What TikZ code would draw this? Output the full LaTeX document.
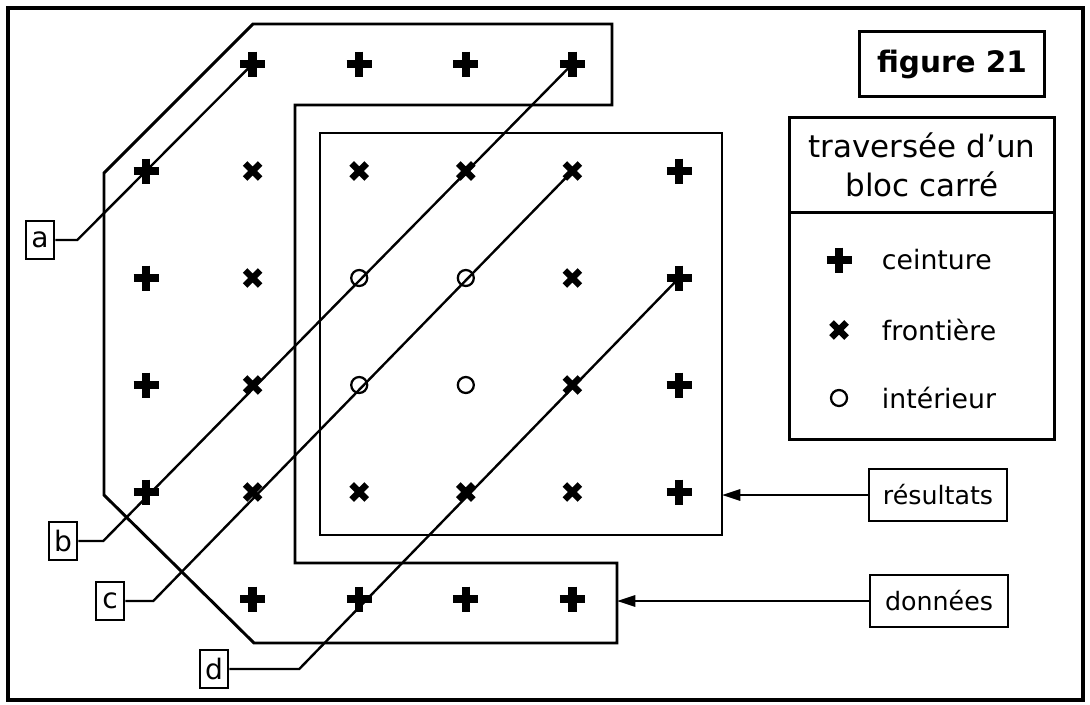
\documentclass[tikz,border=0pt]{standalone}
\usepackage{fontspec}
\setmainfont{DejaVu Sans}
\usetikzlibrary{
  arrows.meta,  % 箭头
  positioning   % 节点相对定位
}
\tikzset{
  trait/.style={line width=2.1pt},
  ligne/.style={line width=1.7pt},
  etiquette/.style={
    draw,
    line width=1.7pt,
    inner sep=1pt,
    minimum width=20pt,
    minimum height=27pt,
    font=\fontsize{20}{22}\selectfont
  },
  boite/.style={
    draw,
    line width=1.7pt,
    minimum width=98pt,
    minimum height=37pt,
    font=\fontsize{18}{20}\selectfont
  },
  fleche/.style={
    -{Triangle[length=13pt,width=8pt]},
    line width=1.6pt
  },
  item/.style={anchor=west, font=\fontsize{19}{22}\selectfont},
  pics/ceinture/.style={code={
    \draw[line width=6pt] (-12.5,0) -- (12.5,0) (0,-12.5) -- (0,12.5);}},
  pics/frontiere/.style={code={
    \draw[line width=4.6pt] (-7.5,-7.5) -- (7.5,7.5) (-7.5,7.5) -- (7.5,-7.5);}},
  pics/interieur/.style={code={
    \draw[line width=1.6pt] (0,0) circle (8);}}
}
\begin{document}
\begin{tikzpicture}[>=Stealth, x=0.025cm, y=-0.025cm]

  \useasboundingbox (0,0) rectangle (1090,704);

  % 1. 外框
  \draw[line width=2.2pt] (8,8) rectangle (1083,700);

  % 2. 网格点 (列 c, 行 r)
  \foreach \c in {0,...,5}
    \foreach \r in {0,...,5}
      \coordinate (g-\c-\r) at ({146+106.6*\c},{64+107*\r});

  % 3. 数据块的轮廓与结果方块
  \draw[trait] (253,24) -- (612,24) -- (612,105) -- (295,105) -- (295,563)
    -- (617,563) -- (617,643) -- (254,643) -- (104,495) -- (104,173) -- cycle;
  \draw[trait] (320,133) rectangle (722,535);
  \coordinate (carre-e) at (722,494);
  \coordinate (bloc-e) at (617,601);

  % 4. 标签 a--d 与扫描线
  \node[etiquette] (la) at (40,240) {a};
  \node[etiquette] (lb) at (63,541) {b};
  \node[etiquette] (lc) at (110,601) {c};
  \node[etiquette] (ld) at (214,669) {d};
  \draw[ligne] (la.east) -- ++(22,0) -- (g-1-0);
  \draw[ligne] (lb.east) -- ++(25,0) -- (g-4-0);
  \draw[ligne] (lc.east) -- ++(28,0) -- (g-4-1);
  \draw[ligne] (ld.east) -- ++(70,0) -- (g-5-2);

  % 5. 点的符号
  \foreach \c/\r in {1/0,2/0,3/0,4/0,0/1,5/1,0/2,5/2,0/3,5/3,0/4,5/4,1/5,2/5,3/5,4/5}
    \pic at (g-\c-\r) {ceinture};
  \foreach \c/\r in {1/1,2/1,3/1,4/1,1/2,4/2,1/3,4/3,1/4,2/4,3/4,4/4}
    \pic at (g-\c-\r) {frontiere};
  \foreach \c/\r in {2/2,3/2,2/3,3/3}
    \pic at (g-\c-\r) {interieur};

  % 6. 标题与图例
  \node[draw, trait, minimum width=131pt, minimum height=46pt,
    font=\bfseries\fontsize{21}{24}\selectfont] (fig) at (952,64) {figure 21};
  \node[draw, trait, minimum width=189pt, minimum height=68pt, align=center,
    font=\fontsize{22}{28}\selectfont] (titre) at (922,165) {traversée d'un\\bloc carré};
  \node[draw, trait, minimum width=189pt, minimum height=161pt,
    below=-2.1pt of titre] (legende) {};
  \pic at (839,260) {ceinture};
  \node[item] (t-ceint) at (877,260) {ceinture};
  \pic at (839,330) {frontiere};
  \node[item] (t-front) at (877,330) {frontière};
  \pic at (839,398) {interieur};
  \node[item] (t-inter) at (877,398) {intérieur};

  % 7. 结果与数据的说明框
  \node[boite] (res) at (938,495) {résultats};
  \node[boite] (don) at (939,601) {données};
  \draw[fleche] (res.west) -- (res.west -| carre-e);
  \draw[fleche] (don.west) -- (don.west -| bloc-e);

\end{tikzpicture}
\end{document}
